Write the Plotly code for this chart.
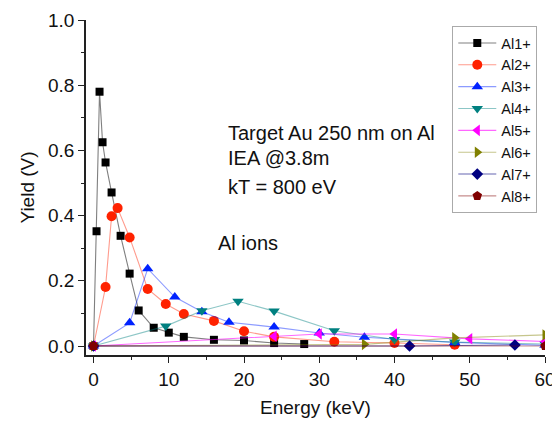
import plotly.graph_objects as go

# ---- data ----
al1_x = [0, 0.4, 0.8, 1.2, 1.6, 2.4, 3.6, 4.8, 6.0, 8.0, 10.0, 12.0, 16.0, 20.0, 24.0, 28.0]
al1_y = [0.0, 0.352, 0.780, 0.625, 0.563, 0.471, 0.338, 0.222, 0.109, 0.056, 0.041, 0.028, 0.019, 0.017, 0.009, 0.006]

al2_x = [0, 1.6, 2.4, 3.2, 4.8, 7.2, 9.6, 12.0, 16.0, 20.0, 24.0, 32.0, 40.0, 48.0]
al2_y = [0.0, 0.181, 0.398, 0.423, 0.333, 0.175, 0.129, 0.098, 0.077, 0.045, 0.028, 0.013, 0.009, 0.004]

al3_x = [0, 4.8, 7.2, 10.8, 14.4, 18.0, 24.0, 30.0, 36.0, 48.0, 60.0]
al3_y = [0.0, 0.071, 0.237, 0.150, 0.105, 0.073, 0.058, 0.040, 0.027, 0.011, 0.002]

al4_x = [0, 9.6, 14.4, 19.2, 24.0, 32.0, 40.0, 48.0, 60.0]
al4_y = [0.0, 0.061, 0.108, 0.137, 0.107, 0.047, 0.020, 0.012, 0.006]

al5_x = [0, 24.0, 30.0, 40.0, 50.0, 60.0]
al5_y = [0.0, 0.030, 0.037, 0.037, 0.022, 0.014]

al6_x = [0, 36.0, 48.0, 60.0]
al6_y = [0.0, 0.005, 0.025, 0.034]

al7_x = [0, 42.0, 56.0]
al7_y = [0.0, 0.0, 0.003]

al8_x = [0, 60.0]
al8_y = [0.0, 0.0]

series_names = ["Al1+", "Al2+", "Al3+", "Al4+", "Al5+", "Al6+", "Al7+", "Al8+"]
xs = [al1_x, al2_x, al3_x, al4_x, al5_x, al6_x, al7_x, al8_x]
ys = [al1_y, al2_y, al3_y, al4_y, al5_y, al6_y, al7_y, al8_y]

# ---- styles ----
marker_colors = ["#000000", "#ff2200", "#0022ff", "#008080", "#ff00ff", "#808000", "#000080", "#800000"]
line_colors = ["rgba(0,0,0,0.5)", "rgba(255,34,0,0.45)", "rgba(0,34,255,0.45)", "rgba(0,128,128,0.45)",
               "rgba(255,0,255,0.6)", "rgba(128,128,0,0.45)", "rgba(0,0,128,0.6)", "rgba(128,0,0,0.45)"]
symbols = ["square", "circle", "triangle-up", "triangle-down", "triangle-left", "triangle-right", "diamond", "pentagon"]
sizes = [8, 10, 10, 10, 10, 10, 9, 10]

FONT = "Liberation Sans, Arial, sans-serif"

fig = go.Figure()
for name, x, y, mc, lc, sym, sz in zip(series_names, xs, ys, marker_colors, line_colors, symbols, sizes):
    fig.add_trace(go.Scatter(
        x=x, y=y, name=name, mode="lines+markers",
        line=dict(color=lc, width=1.1),
        marker=dict(symbol=sym, size=sz, color=mc, line=dict(width=0)),
    ))

# page body has an 8px default margin, so the figure is shrunk/offset accordingly
fig.update_layout(
    width=552, height=413,
    margin=dict(l=78, r=15, t=12, b=66),
    paper_bgcolor="white", plot_bgcolor="white",
    font=dict(family=FONT, size=19, color="#111111"),
    showlegend=True,
    legend=dict(
        x=0.798, y=0.982, xanchor="left", yanchor="top",
        bordercolor="#aaaaaa", borderwidth=1, bgcolor="white",
        font=dict(family=FONT, size=14.5, color="#111111"),
        tracegroupgap=0, itemwidth=38,
    ),
    xaxis=dict(
        range=[-1.0, 60.0], showgrid=False, zeroline=False, automargin=False,
        showline=True, linecolor="#222222", linewidth=1.5,
        ticks="outside", ticklen=6, tickwidth=1.2, tickcolor="#222222",
        tick0=0, dtick=10,
        minor=dict(ticks="outside", ticklen=3, dtick=5, tickcolor="#222222", tickwidth=1.2),
        title=dict(text="Energy (keV)", font=dict(size=19), standoff=12),
        tickfont=dict(size=19),
    ),
    yaxis=dict(
        range=[-0.0276, 1.0], showgrid=False, zeroline=False, automargin=False,
        showline=True, linecolor="#222222", linewidth=1.5,
        ticks="outside", ticklen=6, tickwidth=1.2, tickcolor="#222222",
        tick0=0, dtick=0.2, tickformat=".1f",
        minor=dict(ticks="outside", ticklen=3, dtick=0.1, tickcolor="#222222", tickwidth=1.2),
        title=dict(text="Yield (V)", font=dict(size=19), standoff=8),
        tickfont=dict(size=19),
    ),
)

notes = [
    ("Target Au 250 nm on Al", 17.9, 0.653),
    ("IEA @3.8m", 17.9, 0.577),
    ("kT = 800 eV", 17.9, 0.488),
    ("Al ions", 16.5, 0.317),
]
for txt, x, y in notes:
    fig.add_annotation(x=x, y=y, xref="x", yref="y", text=txt, showarrow=False,
                       xanchor="left", yanchor="middle", xshift=-2,
                       font=dict(family=FONT, size=20, color="#111111"))

fig.write_html("out.html")
